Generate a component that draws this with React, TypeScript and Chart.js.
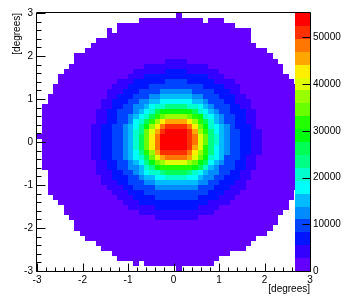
import { useEffect, useRef } from "react";
import { Chart, registerables } from "chart.js";

Chart.register(...registerables);
Chart.defaults.font.family = "'Liberation Sans', Arial, sans-serif";
Chart.defaults.font.size = 10;
Chart.defaults.color = "#000";

// ---- axes ----
const X_MIN = -3;
const X_MAX = 3;
const Y_MIN = -3;
const Y_MAX = 3;
const N_BINS = 51; // 51 x 51 bins over [-3, 3]
const X_TICKS = [-3, -2, -1, 0, 1, 2, 3];
const Y_TICKS = [-3, -2, -1, 0, 1, 2, 3];
const Z_MAX = 55200;
const N_LEVELS = 20; // colour contours of the palette
const Z_TICKS = [0, 10000, 20000, 30000, 40000, 50000];
const X_TITLE = "[degrees]";
const Y_TITLE = "[degrees]";

// ---- histogram content ----
// One entry per row (top row = y near +3). "start: level*count ..."
// level = colour contour (0..19) read off each cell, "-" = empty bin.
const ROWS = [
  "26: 0*1",
  "19: 0*12 -*1 0*3",
  "15: 0*22",
  "13: 0*1 -*1 0*25",
  "13: 0*27",
  "11: 0*29",
  "10: 0*31",
  "9: 0*34",
  "7: 0*37",
  "7: 0*17 1*4 0*17",
  "6: 0*14 1*12 0*14",
  "5: 0*13 1*6 2*4 1*6 0*12",
  "4: 0*13 1*3 2*12 1*3 0*12",
  "4: 0*11 1*3 2*6 3*4 2*5 1*4 0*11",
  "3: 0*11 1*3 2*4 3*10 2*4 1*3 0*11",
  "3: 0*10 1*3 2*3 3*4 4*6 3*4 2*3 1*2 0*11",
  "2: 0*11 1*2 2*3 3*3 4*2 5*6 4*2 3*3 2*3 1*2 0*11",
  "2: 0*10 1*2 2*3 3*2 4*2 5*2 6*6 5*2 4*1 3*3 2*2 1*3 0*10",
  "1: 0*11 1*2 2*2 3*2 4*2 5*1 6*1 7*2 8*4 7*2 6*1 5*1 4*1 3*3 2*2 1*2 0*11",
  "1: 0*10 1*2 2*2 3*3 4*1 5*1 6*1 7*1 9*1 10*6 9*1 7*1 6*1 5*1 4*1 3*2 2*3 1*2 0*10",
  "1: 0*10 1*2 2*2 3*2 4*1 5*1 6*1 7*1 9*1 11*1 12*1 13*4 12*1 11*1 10*1 7*1 6*1 5*1 4*1 3*2 2*2 1*2 0*10",
  "1: 0*10 1*2 2*2 3*2 4*1 6*1 7*1 9*1 11*1 13*1 15*1 16*4 15*1 13*1 11*1 9*1 7*1 5*1 4*1 3*2 2*2 1*2 0*10",
  "1: 0*9 1*2 2*2 3*2 4*1 5*1 6*1 8*1 10*1 13*1 15*1 17*1 18*4 17*1 15*1 12*1 10*1 7*1 6*1 5*1 4*1 3*1 2*3 1*1 0*10",
  "1: 0*9 1*2 2*2 3*2 4*1 5*1 7*1 8*1 12*1 14*1 16*1 18*1 19*4 18*1 16*1 13*1 11*1 8*1 6*1 5*1 4*1 3*2 2*2 1*2 0*9",
  "0: 0*10 1*2 2*2 3*2 4*1 5*1 7*1 9*1 12*1 15*1 17*1 19*5 18*1 17*1 14*1 12*1 8*1 7*1 5*1 4*1 3*2 2*2 1*2 0*9",
  "1: 0*9 1*2 2*2 3*2 4*1 5*1 7*1 9*1 12*1 15*1 17*1 19*5 18*1 17*1 14*1 12*1 8*1 7*1 5*1 4*1 3*2 2*2 1*2 0*9",
  "1: 0*9 1*2 2*2 3*2 4*1 5*1 7*1 9*1 12*1 15*1 17*1 19*5 18*1 16*1 14*1 11*1 8*1 6*1 5*1 4*1 3*2 2*2 1*2 0*9",
  "1: 0*9 1*2 2*2 3*2 4*1 5*1 6*1 8*1 11*1 13*1 16*1 18*5 17*1 15*1 13*1 11*1 8*1 6*1 5*1 4*1 3*2 2*2 1*2 0*9",
  "1: 0*9 1*2 2*2 3*2 4*1 5*1 6*1 7*1 9*1 12*1 14*1 16*1 17*4 16*1 14*1 12*1 10*1 7*1 6*1 5*1 3*3 2*1 1*2 0*10",
  "1: 0*10 1*2 2*2 3*2 4*1 5*1 6*1 8*1 10*1 12*1 13*1 14*4 13*1 12*1 10*1 9*1 6*1 5*1 4*1 3*2 2*2 1*2 0*10",
  "1: 0*10 1*2 2*2 3*2 4*2 5*1 7*1 8*1 10*1 11*6 10*1 9*1 7*1 5*1 4*1 3*3 2*2 1*2 0*10",
  "2: 0*9 1*3 2*2 3*2 4*1 5*1 6*1 7*2 8*1 9*4 8*1 7*1 6*1 5*1 4*2 3*2 2*2 1*2 0*10",
  "2: 0*10 1*2 2*3 3*2 4*1 5*2 6*2 7*4 6*2 5*1 4*2 3*2 2*3 1*2 0*10",
  "2: 0*10 1*3 2*2 3*3 4*2 5*8 4*2 3*2 2*3 1*2 0*11",
  "2: 0*11 1*3 2*2 3*4 4*8 3*3 2*3 1*3 0*11",
  "2: 0*12 1*3 2*3 3*12 2*3 1*3 0*10",
  "3: 0*12 1*3 2*4 3*8 2*4 1*3 0*11",
  "4: 0*12 1*3 2*13 1*4 0*11",
  "5: 0*12 1*5 2*8 1*4 0*13",
  "5: 0*14 1*14 0*13",
  "6: 0*16 1*8 0*15",
  "7: 0*38",
  "7: 0*37",
  "8: 0*35",
  "9: 0*32",
  "11: 0*29",
  "12: 0*27",
  "14: 0*22",
  "15: 0*19",
  "18: 0*1 -*1 0*13",
  "26: 0*1",
];

const BIN_W = (X_MAX - X_MIN) / N_BINS;
const Z_STEP = Z_MAX / N_LEVELS;

type Cell = { x: number; y: number; v: number };

function buildCells(): Cell[] {
  const out: Cell[] = [];
  ROWS.forEach((row, r) => {
    const [startStr, runs] = row.split(":");
    let c = parseInt(startStr, 10);
    runs
      .trim()
      .split(/\s+/)
      .forEach((tok) => {
        const [lv, n] = tok.split("*");
        const count = parseInt(n, 10);
        for (let i = 0; i < count; i++, c++) {
          if (lv === "-") continue;
          const level = parseInt(lv, 10);
          out.push({
            x: X_MIN + (c + 0.5) * BIN_W,
            y: Y_MAX - (r + 0.5) * BIN_W,
            v: (level + 0.5) * Z_STEP,
          });
        }
      });
  });
  return out;
}

// ROOT "pretty palette" (50 colours, violet -> red) sampled by 20 contours
function levelColor(j: number): string {
  const k = Math.floor(((j + 0.99) * 50) / N_LEVELS);
  const hue = Math.max(0, 280 - (k + 1) * 5.6);
  return `hsl(${hue}, 100%, 50%)`;
}
function valueColor(v: number): string {
  const j = Math.min(N_LEVELS - 1, Math.max(0, Math.floor(v / Z_STEP)));
  return levelColor(j);
}

const histPlugin = {
  id: "hist2d",
  beforeDatasetsDraw(chart: any) {
    const { ctx, chartArea } = chart;
    const xs = chart.scales.x;
    const ys = chart.scales.y;
    const data = chart.data.datasets[0].data as Cell[];
    ctx.save();
    ctx.beginPath();
    ctx.rect(chartArea.left, chartArea.top, chartArea.right - chartArea.left, chartArea.bottom - chartArea.top);
    ctx.clip();
    for (const p of data) {
      const x0 = Math.round(xs.getPixelForValue(p.x - BIN_W / 2));
      const x1 = Math.round(xs.getPixelForValue(p.x + BIN_W / 2));
      const y0 = Math.round(ys.getPixelForValue(p.y + BIN_W / 2));
      const y1 = Math.round(ys.getPixelForValue(p.y - BIN_W / 2));
      ctx.fillStyle = valueColor(p.v);
      ctx.fillRect(x0, y0, x1 - x0, y1 - y0);
    }
    ctx.restore();
  },
  afterDatasetsDraw(chart: any) {
    const { ctx, chartArea } = chart;
    const xs = chart.scales.x;
    const ys = chart.scales.y;
    const zs = chart.scales.z;
    const L = chartArea.left;
    const R = chartArea.right;
    const T = chartArea.top;
    const B = chartArea.bottom;
    ctx.save();
    ctx.strokeStyle = "#000";
    ctx.lineWidth = 1;
    // frame
    ctx.beginPath();
    ctx.moveTo(L - 0.5, T - 0.5);
    ctx.lineTo(R + 0.5, T - 0.5);
    ctx.moveTo(L - 0.5, T - 0.5);
    ctx.lineTo(L - 0.5, B + 0.5);
    ctx.lineTo(R + 0.5, B + 0.5);
    ctx.stroke();
    // ticks (inside the frame): major at labels, minor every 0.2
    ctx.beginPath();
    for (let i = -15; i <= 15; i++) {
      const v = i / 5;
      const major = i % 5 === 0;
      const px = Math.round(xs.getPixelForValue(v)) + 0.5;
      ctx.moveTo(px, B + 0.5);
      ctx.lineTo(px, B + 0.5 - (major ? 8 : 4));
      const py = Math.round(ys.getPixelForValue(v)) + 0.5;
      ctx.moveTo(L - 0.5, py);
      ctx.lineTo(L - 0.5 + (major ? 9 : 5), py);
    }
    ctx.stroke();
    // colour bar
    const barL = 295;
    for (let j = 0; j < N_LEVELS; j++) {
      const yTop = Math.round(zs.getPixelForValue((j + 1) * Z_STEP));
      const yBot = Math.round(zs.getPixelForValue(j * Z_STEP));
      ctx.fillStyle = levelColor(j);
      ctx.fillRect(barL, yTop, R - barL, yBot - yTop);
    }
    ctx.beginPath();
    for (const v of Z_TICKS) {
      const py = Math.round(zs.getPixelForValue(v)) + 0.5;
      ctx.moveTo(R + 0.5, py);
      ctx.lineTo(R + 0.5 - 8, py);
    }
    ctx.moveTo(R + 0.5, T - 0.5);
    ctx.lineTo(R + 0.5, B + 0.5);
    ctx.stroke();
    ctx.restore();
  },
};

export default function App() {
  const ref = useRef<HTMLCanvasElement | null>(null);
  useEffect(() => {
    if (!ref.current) return;
    const cells = buildCells();
    const noGrid = { display: false, drawTicks: false };
    const chart = new Chart(ref.current, {
      type: "scatter",
      data: {
        datasets: [{ data: cells as any, pointRadius: 0, pointHoverRadius: 0 }],
      },
      options: {
        animation: false,
        responsive: false,
        devicePixelRatio: 1,
        events: [],
        layout: { padding: { top: 13, left: 0, right: 0, bottom: 0 } },
        plugins: { legend: { display: false }, tooltip: { enabled: false } },
        scales: {
          x: {
            type: "linear",
            position: "bottom",
            min: X_MIN,
            max: X_MAX,
            grid: noGrid,
            border: { display: false },
            afterBuildTicks: (s: any) => {
              s.ticks = X_TICKS.map((v) => ({ value: v }));
            },
            afterFit: (s: any) => {
              s.height = 32;
            },
            ticks: { autoSkip: false, maxRotation: 0, padding: 3 },
            title: { display: true, text: X_TITLE, align: "end", padding: { top: 0, bottom: 8 } },
          },
          y: {
            type: "linear",
            position: "left",
            min: Y_MIN,
            max: Y_MAX,
            grid: noGrid,
            border: { display: false },
            afterBuildTicks: (s: any) => {
              s.ticks = Y_TICKS.map((v) => ({ value: v }));
            },
            afterFit: (s: any) => {
              s.width = 37;
            },
            ticks: { autoSkip: false, padding: 4 },
            title: { display: true, text: Y_TITLE, align: "end", padding: { top: 11, bottom: 0 } },
          },
          z: {
            type: "linear",
            axis: "y",
            position: "right",
            min: 0,
            max: Z_MAX,
            grid: noGrid,
            border: { display: false },
            afterBuildTicks: (s: any) => {
              s.ticks = Z_TICKS.map((v) => ({ value: v }));
            },
            afterFit: (s: any) => {
              s.width = 36;
            },
            ticks: { autoSkip: false, padding: 3, callback: (v: any) => String(v) },
          },
        } as any,
      },
      plugins: [histPlugin],
    });
    return () => chart.destroy();
  }, []);
  return (
    <div style={{ position: "fixed", left: 0, top: 0, width: 346, height: 303, background: "#fff" }}>
      <canvas ref={ref} width={346} height={303} style={{ display: "block" }} />
    </div>
  );
}
